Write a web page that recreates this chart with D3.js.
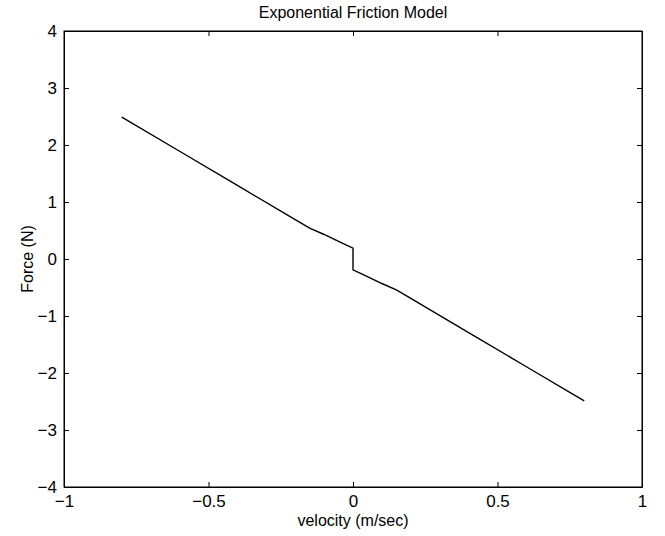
<!DOCTYPE html>
<html><head><meta charset="utf-8">
<script src="https://cdn.jsdelivr.net/npm/d3@7"></script>
<style>body{margin:0;background:#fff}text{font-family:"Liberation Sans",Arial,Helvetica,sans-serif;fill:#000}</style>
</head><body><svg id="c" width="665" height="536"></svg>
<script>
const velocity = [-0.8, -0.6, -0.4, -0.2, -0.15, -0.1, -0.05, 0, 0, 0.05, 0.1, 0.15, 0.2, 0.4, 0.6, 0.8];
const force    = [2.49, 1.89, 1.29, 0.69, 0.54, 0.43, 0.31, 0.19, -0.19, -0.31, -0.43, -0.54, -0.69, -1.29, -1.89, -2.49];
const xTicks = [-1, -0.5, 0, 0.5, 1];
const yTicks = [-4, -3, -2, -1, 0, 1, 2, 3, 4];
const titleText = "Exponential Friction Model";
const xLabel = "velocity (m/sec)";
const yLabel = "Force (N)";

(function () {
const svg = d3.select("#c");
const L = 64, R = 642, T = 31, B = 487;
const x = d3.scaleLinear().domain([-1, 1]).range([L, R]);
const y = d3.scaleLinear().domain([-4, 4]).range([B, T]);
const fmt = d => d3.format("")(d).replace("-", "\u2212");
const fs = "16px";

const gBottom = svg.append("g").attr("transform", `translate(0,${B})`)
  .call(d3.axisBottom(x).tickValues(xTicks).tickSizeInner(-5).tickSizeOuter(0).tickPadding(8).tickFormat(fmt));
const gTop = svg.append("g").attr("transform", `translate(0,${T})`)
  .call(d3.axisTop(x).tickValues(xTicks).tickSizeInner(-5).tickSizeOuter(0).tickFormat(""));
const gLeft = svg.append("g").attr("transform", `translate(${L},0)`)
  .call(d3.axisLeft(y).tickValues(yTicks).tickSizeInner(-5).tickSizeOuter(0).tickPadding(7).tickFormat(fmt));
const gRight = svg.append("g").attr("transform", `translate(${R},0)`)
  .call(d3.axisRight(y).tickValues(yTicks).tickSizeInner(-5).tickSizeOuter(0).tickFormat(""));
[gBottom, gTop, gLeft, gRight].forEach(g => {
  g.select(".domain").attr("stroke", "#000").attr("stroke-width", 1);
  g.selectAll(".tick line").attr("stroke", "#000");
  g.selectAll("text").style("font-size", "17px").attr("font-family", null);
});
svg.append("rect").attr("x", L).attr("y", T).attr("width", R - L).attr("height", B - T)
  .attr("fill", "none").attr("stroke", "#000").attr("stroke-width", 1);

const pts = velocity.map((v, i) => [v, force[i]]);
svg.append("path").datum(pts)
  .attr("d", d3.line().x(d => x(d[0])).y(d => y(d[1])))
  .attr("fill", "none").attr("stroke", "#000").attr("stroke-width", 1.4);

svg.append("text").attr("x", (L + R) / 2).attr("y", 18).attr("text-anchor", "middle").style("font-size", fs).text(titleText);
svg.append("text").attr("x", (L + R) / 2).attr("y", 526).attr("text-anchor", "middle").style("font-size", fs).text(xLabel);
svg.append("text").attr("transform", `translate(33,${(T + B) / 2}) rotate(-90)`).attr("text-anchor", "middle").style("font-size", fs).text(yLabel);
})();
</script></body></html>
